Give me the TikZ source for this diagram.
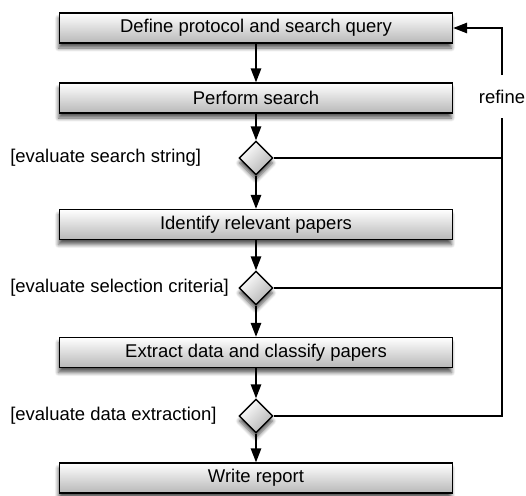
\documentclass[tikz,border=0pt]{standalone}
\usepackage{fontspec}
\setmainfont{Liberation Sans}
\usetikzlibrary{arrows.meta,shapes.geometric,shadows.blur}

\begin{document}
\begin{tikzpicture}[
    activity/.style={draw, thick, rectangle, minimum width=7.86cm, minimum height=0.6cm,
                     inner sep=0pt, top color=white, bottom color=black!28,
                     blur shadow={shadow xshift=-0.02cm, shadow yshift=-0.1cm,
                                  shadow blur steps=6, shadow opacity=65}},
    decision/.style={draw, thick, diamond, minimum width=0.68cm, minimum height=0.68cm,
                     inner sep=0pt, top color=white, bottom color=black!30, shading angle=45,
                     blur shadow={shadow xshift=0cm, shadow yshift=-0.1cm,
                                  shadow blur steps=6, shadow opacity=65}},
    guard/.style={anchor=west, inner sep=0pt},
    flow/.style={-{Triangle[length=0.28cm, width=0.21cm]}, thick},
    every node/.style={font=\fontsize{10.5}{12.5}\selectfont}
]
    \useasboundingbox (0,0) rectangle (10.52,-9.9);

    \node[activity] (protocol) at (5.12,-0.56) {Define protocol and search query};
    \node[activity] (search) at (5.12,-1.96) {Perform search};
    \node[decision] (evalsearch) at (5.12,-3.16) {};
    \node[activity] (identify) at (5.12,-4.49) {Identify relevant papers};
    \node[decision] (evalselect) at (5.12,-5.76) {};
    \node[activity] (extract) at (5.12,-7.05) {Extract data and classify papers};
    \node[decision] (evalextract) at (5.12,-8.32) {};
    \node[activity] (report) at (5.12,-9.56) {Write report};

    \node[guard] (gsearch) at (0.2,-3.15) {[evaluate search string]};
    \node[guard] (gselect) at (0.2,-5.76) {[evaluate selection criteria]};
    \node[guard] (gextract) at (0.2,-8.32) {[evaluate data extraction]};

    \node[inner sep=0pt, minimum height=0.84cm] (refine) at (10.04,-1.93) {refine};

    \draw[flow] (protocol) -- (search);
    \draw[flow] (search) -- (evalsearch);
    \draw[flow] (evalsearch) -- (identify);
    \draw[flow] (identify) -- (evalselect);
    \draw[flow] (evalselect) -- (extract);
    \draw[flow] (extract) -- (evalextract);
    \draw[flow] (evalextract) -- (report);

    \draw[thick] (evalextract.east) -| (refine.south);
    \draw[thick] (evalsearch.east) -- (evalsearch.east -| refine);
    \draw[thick] (evalselect.east) -- (evalselect.east -| refine);
    \draw[flow] (refine.north) |- (protocol.east);
\end{tikzpicture}
\end{document}
